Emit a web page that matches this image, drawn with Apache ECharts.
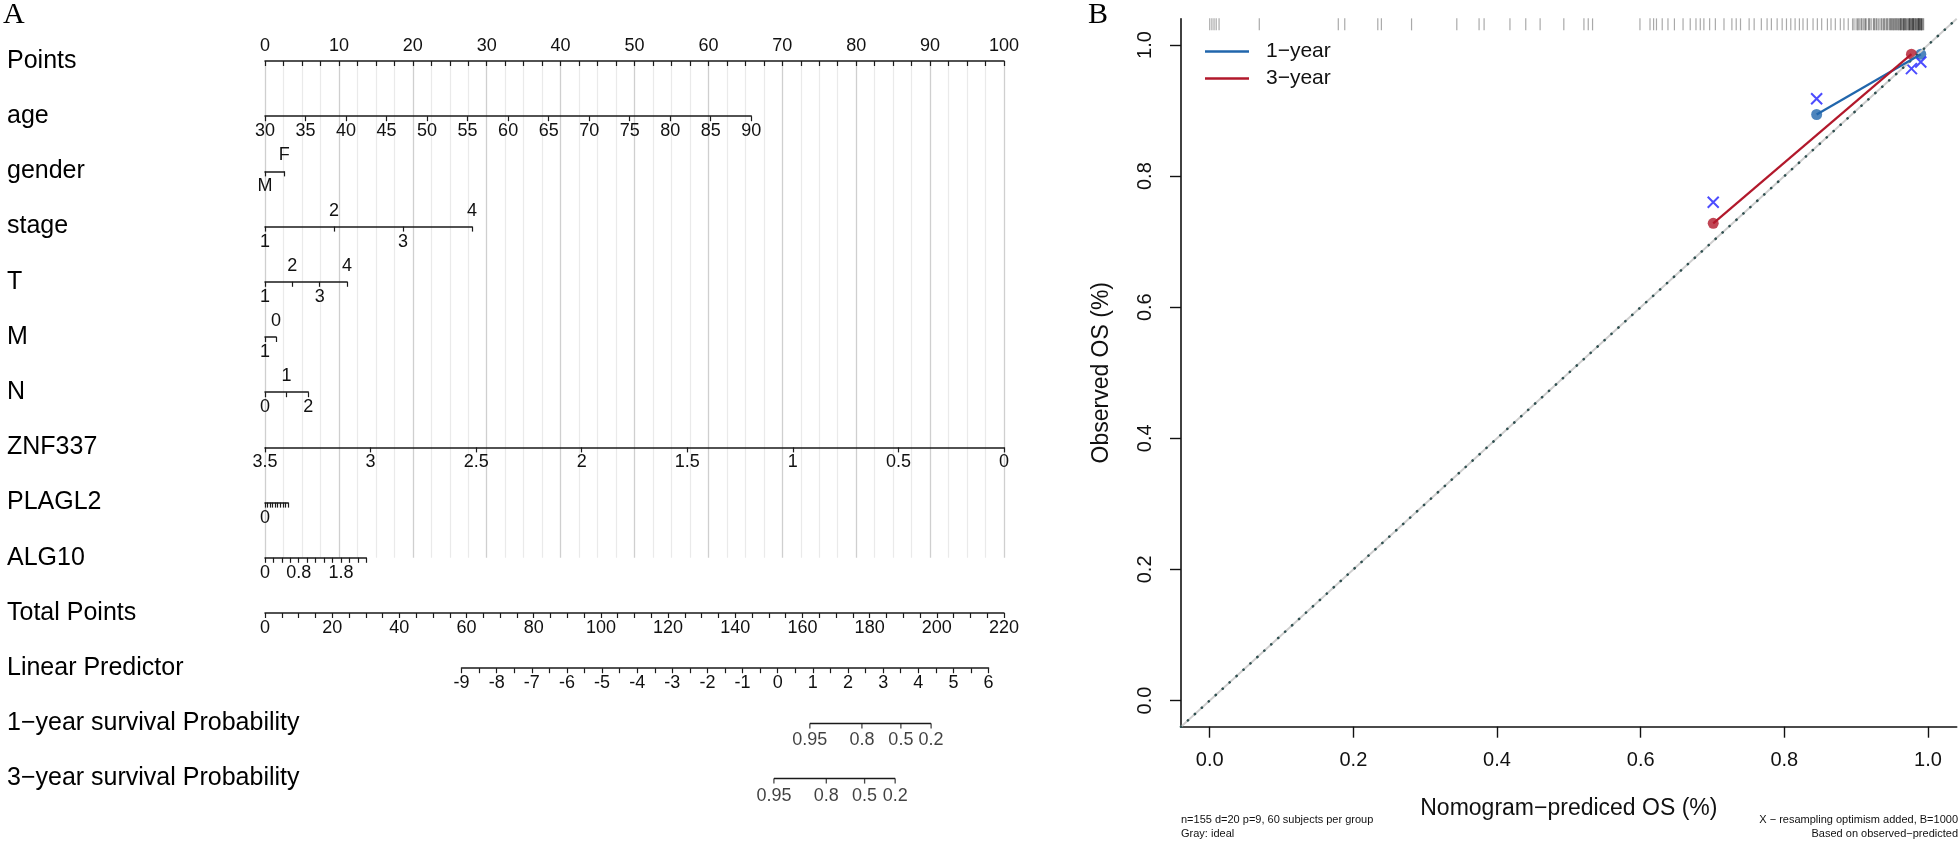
<!DOCTYPE html>
<html>
<head>
<meta charset="utf-8">
<script src="https://cdn.jsdelivr.net/npm/echarts@6/dist/echarts.min.js"></script>
<style>html,body{margin:0;padding:0;background:#fff}#c{width:1960px;height:842px}</style>
</head>
<body>
<div id="c"></div>
<script>
// ================= DATA: Panel A (nomogram) =================
const rowNames = ['Points', 'age', 'gender', 'stage', 'T', 'M', 'N', 'ZNF337', 'PLAGL2', 'ALG10',
  'Total Points', 'Linear Predictor', '1\u2212year survival Probability', '3\u2212year survival Probability'];

const pointsRange = [0, 100];            // Points scale, labels every 10
const pointsLabelStep = 10;

const ageRange = [30, 90];               // tick labels every 5
const ageLabelStep = 5;
const agePoints = [0, 65.8];             // points at the ends of the age scale

const genderLevels = ['M', 'F'];
const genderSides = ['below', 'above'];
const genderPoints = [0, 2.6];

const stageLevels = [1, 2, 3, 4];
const stageSides = ['below', 'above', 'below', 'above'];
const stagePoints = [0, 28.0];

const tLevels = [1, 2, 3, 4];
const tSides = ['below', 'above', 'below', 'above'];
const tPoints = [0, 11.1];

const mLevels = [1, 0];
const mSides = ['below', 'above'];
const mPoints = [0, 1.5];

const nLevels = [0, 1, 2];
const nSides = ['below', 'above', 'below'];
const nPoints = [0, 5.85];

const znfRange = [0, 3.5];               // drawn reversed: 3.5 at 0 points
const znfLabelStep = 0.5;
const znfPoints = [0, 100];

const plaglRange = [0, 1.8];
const plaglTickStep = 0.2;
const plaglLabels = [0];
const plaglPoints = [0, 3.1];

const alg10Range = [0, 2.4];
const alg10TickStep = 0.2;
const alg10Labels = [0, 0.8, 1.8];
const alg10Points = [0, 13.7];

const totalPointsRange = [0, 220];
const totalPointsLabelStep = 20;

const lpRange = [-9, 6];
const lpLabelStep = 1;
const lpTotalPoints = [58.5, 215.4];     // total points at LP -9 and 6

const surv1Labels = ['0.95', '0.8', '0.5', '0.2'];
const surv1TotalPoints = [162.2, 177.7, 189.3, 198.3];
const surv3Labels = ['0.95', '0.8', '0.5', '0.2'];
const surv3TotalPoints = [151.5, 167.1, 178.5, 187.6];

// ================= DATA: Panel B (calibration) =================
const calTicks = [0, 0.2, 0.4, 0.6, 0.8, 1.0];
const oneYearPredicted = [0.845, 0.990];
const oneYearObserved = [0.894, 0.986];
const oneYearCorrected = [0.918, 0.974];
const threeYearPredicted = [0.701, 0.977];
const threeYearObserved = [0.728, 0.986];
const threeYearCorrected = [0.760, 0.964];
const idealLine = [-0.04, 1.04];
const rugPredicted = [
  0.000, 0.003, 0.006, 0.009, 0.013, 0.069, 0.179, 0.188, 0.234, 0.239, 0.281, 0.344, 0.375, 0.382,
  0.418, 0.440, 0.460, 0.493, 0.521, 0.527, 0.533, 0.599,
  0.613, 0.618, 0.622, 0.630, 0.638, 0.647, 0.659, 0.669, 0.677, 0.683, 0.688, 0.696, 0.704, 0.716,
  0.727, 0.733, 0.739, 0.751, 0.758, 0.768, 0.776, 0.782, 0.790, 0.797, 0.803, 0.809, 0.815, 0.821,
  0.826, 0.832, 0.840, 0.846, 0.852, 0.860, 0.865, 0.871, 0.878, 0.883, 0.889,
  0.895, 0.897, 0.900, 0.902, 0.905, 0.907, 0.910, 0.912, 0.914, 0.917, 0.919, 0.921, 0.924, 0.926,
  0.928, 0.931, 0.933, 0.935, 0.938, 0.940, 0.942, 0.944, 0.946, 0.948, 0.950, 0.952, 0.954, 0.956,
  0.958, 0.960, 0.962, 0.964, 0.966, 0.968, 0.970, 0.972, 0.974, 0.976, 0.978, 0.980, 0.982, 0.984,
  0.986, 0.988, 0.990, 0.992,
  0.949, 0.953, 0.957, 0.961, 0.963, 0.967, 0.969, 0.973, 0.975, 0.977, 0.979, 0.981, 0.983, 0.985,
  0.987, 0.989, 0.991, 0.959, 0.965, 0.971, 0.975, 0.979, 0.983, 0.987, 0.990, 0.936, 0.943, 0.925,
  0.913, 0.903, 0.908, 0.918, 0.929, 0.939, 0.947, 0.955, 0.962, 0.968, 0.974, 0.980, 0.986, 0.991,
  0.993, 0.994, 0.951, 0.966, 0.978, 0.988
];
const rugLevel = 1.0315;

// ================= LAYOUT =================
const FONT = '"Liberation Sans", Arial, Helvetica, sans-serif';
const INK = '#1a1a1a';
const PX0 = 265, PXW = 739;           // Points 0 -> 265px, 100 -> 1004px
const ROW0 = 61, ROWH = 55.2;
function rowY(i) { return ROW0 + i * ROWH; }
function ptsPx(p) { return PX0 + (p - pointsRange[0]) * PXW / (pointsRange[1] - pointsRange[0]); }
function tpPx(t) { return PX0 + (t - totalPointsRange[0]) * PXW / (totalPointsRange[1] - totalPointsRange[0]); }
function near(a, b) { return Math.abs(a - b) < 1e-6; }

const grids = [], xAxes = [], yAxes = [], series = [];
const labelBase = { fontSize: 18, fontFamily: FONT, color: '#111', showMinLabel: true, showMaxLabel: true };

function addAxisRow(cfg) {
  const gi = grids.length;
  const y = rowY(cfg.row);
  grids.push({ left: cfg.left, top: y - 1, width: cfg.right - cfg.left, height: 1, containLabel: false, outerBoundsMode: 'none' });
  yAxes.push({ gridIndex: gi, type: 'value', show: false, min: 0, max: 1 });
  const base = {
    gridIndex: gi, type: 'value', position: 'bottom', min: cfg.min, max: cfg.max, interval: cfg.interval,
    inverse: !!cfg.inverse, splitLine: { show: false }, minorSplitLine: { show: false }
  };
  xAxes.push(Object.assign({}, base, {
    axisLine: { show: true, onZero: false, lineStyle: { color: INK, width: 1.5 } },
    axisTick: { show: true, inside: false, length: 5, lineStyle: { color: INK, width: 1.2 } },
    minorTick: cfg.minor ? { show: true, splitNumber: cfg.minor, length: 5, lineStyle: { color: INK, width: 1.2 } } : { show: false },
    axisLabel: Object.assign({}, labelBase, { show: true, margin: 6, formatter: cfg.below })
  }));
  if (cfg.above) {
    xAxes.push(Object.assign({}, base, {
      axisLine: { show: false, onZero: false }, axisTick: { show: false }, minorTick: { show: false },
      axisLabel: Object.assign({}, labelBase, { show: true, inside: true, margin: 7, formatter: cfg.above })
    }));
  }
}

function addLevelsRow(row, levels, sides, pts) {
  const fmt = side => (v => { const i = Math.round(v); return sides[i] === side ? String(levels[i]) : ''; });
  addAxisRow({ row, left: ptsPx(pts[0]), right: ptsPx(pts[1]), min: 0, max: levels.length - 1, interval: 1,
    below: fmt('below'), above: fmt('above') });
}

function addProbRow(row, tps, labels) {
  const gi = grids.length, xi = xAxes.length, yi = yAxes.length;
  const y = rowY(row);
  grids.push({ left: PX0, top: y - 1, width: PXW, height: 1, containLabel: false, outerBoundsMode: 'none' });
  xAxes.push({ gridIndex: gi, type: 'value', show: false, min: totalPointsRange[0], max: totalPointsRange[1] });
  yAxes.push({ gridIndex: gi, type: 'value', show: false, min: 0, max: 1 });
  series.push({
    type: 'line', xAxisIndex: xi, yAxisIndex: yi, silent: true, clip: false, symbol: 'none',
    data: [[tps[0], 0], [tps[tps.length - 1], 0]], lineStyle: { color: INK, width: 1.5 }
  });
  series.push({
    type: 'scatter', xAxisIndex: xi, yAxisIndex: yi, silent: true, clip: false,
    symbol: 'rect', symbolSize: [1.3, 5], symbolOffset: [0, 2.5], itemStyle: { color: INK },
    data: tps.map((t, i) => ({ name: labels[i], value: [t, 0] })),
    label: { show: true, position: 'bottom', distance: 3, formatter: '{b}', fontSize: 18, fontFamily: FONT, color: '#111' }
  });
}

// --- Points row (also carries the vertical reference lines) ---
(function () {
  const gi = grids.length;
  grids.push({ left: PX0, top: rowY(0), width: PXW, height: rowY(9) - rowY(0), containLabel: false, outerBoundsMode: 'none' });
  yAxes.push({ gridIndex: gi, type: 'value', show: false, min: 0, max: 1 });
  xAxes.push({
    gridIndex: gi, type: 'value', position: 'top', min: pointsRange[0], max: pointsRange[1], interval: pointsLabelStep,
    axisLine: { show: true, onZero: false, lineStyle: { color: INK, width: 1.5 } },
    axisTick: { show: true, inside: true, length: 5, lineStyle: { color: INK, width: 1.2 } },
    minorTick: { show: true, splitNumber: 4, length: 5, lineStyle: { color: INK, width: 1.2 } },
    splitLine: { show: true, lineStyle: { color: '#cfcfcf', width: 1.3 } },
    minorSplitLine: { show: true, lineStyle: { color: '#eaeaea', width: 1.2 } },
    axisLabel: Object.assign({}, labelBase, { margin: 6 })
  });
})();

addAxisRow({ row: 1, left: ptsPx(agePoints[0]), right: ptsPx(agePoints[1]), min: ageRange[0], max: ageRange[1], interval: ageLabelStep });
addLevelsRow(2, genderLevels, genderSides, genderPoints);
addLevelsRow(3, stageLevels, stageSides, stagePoints);
addLevelsRow(4, tLevels, tSides, tPoints);
addLevelsRow(5, mLevels, mSides, mPoints);
addLevelsRow(6, nLevels, nSides, nPoints);
addAxisRow({ row: 7, left: ptsPx(znfPoints[0]), right: ptsPx(znfPoints[1]), min: znfRange[0], max: znfRange[1], interval: znfLabelStep, inverse: true });
addAxisRow({ row: 8, left: ptsPx(plaglPoints[0]), right: ptsPx(plaglPoints[1]), min: plaglRange[0], max: plaglRange[1], interval: plaglTickStep,
  below: v => plaglLabels.some(l => near(l, v)) ? String(+v.toFixed(1)) : '' });
addAxisRow({ row: 9, left: ptsPx(alg10Points[0]), right: ptsPx(alg10Points[1]), min: alg10Range[0], max: alg10Range[1], interval: alg10TickStep,
  below: v => alg10Labels.some(l => near(l, v)) ? String(+v.toFixed(1)) : '' });
addAxisRow({ row: 10, left: tpPx(totalPointsRange[0]), right: tpPx(totalPointsRange[1]), min: totalPointsRange[0], max: totalPointsRange[1], interval: totalPointsLabelStep, minor: 4 });
addAxisRow({ row: 11, left: tpPx(lpTotalPoints[0]), right: tpPx(lpTotalPoints[1]), min: lpRange[0], max: lpRange[1], interval: lpLabelStep, minor: 2 });
addProbRow(12, surv1TotalPoints, surv1Labels);
addProbRow(13, surv3TotalPoints, surv3Labels);

// ================= Panel B =================
const BLUE = '#2166AC', RED = '#B2182B', XBLUE = '#1f1fff';
const bg = grids.length, bx = xAxes.length, by = yAxes.length;
grids.push({ left: 1181, top: 18.8, right: 1960 - 1956.7, bottom: 842 - 726.7, containLabel: false, outerBoundsMode: 'none' });
xAxes.push({
  gridIndex: bg, type: 'value', min: idealLine[0], max: idealLine[1], position: 'bottom',
  axisLine: { show: true, onZero: false, lineStyle: { color: '#111', width: 1.6 } },
  axisTick: { show: true, inside: false, length: 11, customValues: calTicks, lineStyle: { color: '#111', width: 1.4 } },
  axisLabel: { show: true, customValues: calTicks, formatter: v => v.toFixed(1), margin: 24, fontSize: 20, fontFamily: FONT, color: '#111' },
  splitLine: { show: false },
  name: 'Nomogram\u2212prediced OS (%)', nameLocation: 'middle', nameGap: 70,
  nameTextStyle: { fontSize: 23, fontFamily: FONT, color: '#111' }
});
yAxes.push({
  gridIndex: bg, type: 'value', min: idealLine[0], max: idealLine[1], position: 'left',
  axisLine: { show: true, onZero: false, lineStyle: { color: '#111', width: 1.6 } },
  axisTick: { show: true, inside: false, length: 11, customValues: calTicks, lineStyle: { color: '#111', width: 1.4 } },
  axisLabel: { show: true, customValues: calTicks, rotate: 90, formatter: v => v.toFixed(1), margin: 26, fontSize: 20, fontFamily: FONT, color: '#111' },
  splitLine: { show: false },
  name: 'Observed OS (%)', nameLocation: 'middle', nameGap: 68,
  nameTextStyle: { fontSize: 23, fontFamily: FONT, color: '#111' }
});
const onB = { xAxisIndex: bx, yAxisIndex: by };
series.push(Object.assign({ type: 'line', name: 'ideal', silent: true, symbol: 'none',
  data: [[idealLine[0], idealLine[0]], [idealLine[1], idealLine[1]]], lineStyle: { color: '#cfcfcf', width: 2 } }, onB));
series.push(Object.assign({ type: 'line', name: 'ideal-dots', silent: true, symbol: 'none',
  data: [[idealLine[0], idealLine[0]], [idealLine[1], idealLine[1]]], lineStyle: { color: '#2F4F4F', width: 2.6, type: [0.1, 9.3], cap: 'round' } }, onB));
series.push(Object.assign({ type: 'scatter', name: 'rug', silent: true, symbol: 'rect', symbolSize: [1.2, 12],
  itemStyle: { color: 'rgba(0,0,0,0.42)' }, data: rugPredicted.map(v => [v, rugLevel]) }, onB));
series.push(Object.assign({ type: 'line', name: '1\u2212year', color: BLUE, symbol: 'none',
  data: oneYearPredicted.map((p, i) => [p, oneYearObserved[i]]), lineStyle: { color: BLUE, width: 2.2 } }, onB));
series.push(Object.assign({ type: 'line', name: '3\u2212year', color: RED, symbol: 'none',
  data: threeYearPredicted.map((p, i) => [p, threeYearObserved[i]]), lineStyle: { color: RED, width: 2.2 } }, onB));
series.push(Object.assign({ type: 'scatter', name: '1-year observed', symbol: 'circle', symbolSize: 11, itemStyle: { color: BLUE },
  data: oneYearPredicted.map((p, i) => [p, oneYearObserved[i]]) }, onB));
series.push(Object.assign({ type: 'scatter', name: '3-year observed', symbol: 'circle', symbolSize: 11, itemStyle: { color: RED },
  data: threeYearPredicted.map((p, i) => [p, threeYearObserved[i]]) }, onB));
const xPath = 'path://M0,0L10,10M10,0L0,10';
series.push(Object.assign({ type: 'scatter', name: 'corrected', symbol: xPath, symbolSize: 11,
  itemStyle: { color: 'transparent', borderColor: XBLUE, borderWidth: 2 },
  data: oneYearPredicted.map((p, i) => [p, oneYearCorrected[i]]).concat(threeYearPredicted.map((p, i) => [p, threeYearCorrected[i]])) }, onB));

// ================= Texts =================
const graphic = [
  { type: 'text', x: 3, y: 15, style: { text: 'A', font: '30px "Liberation Serif", "Times New Roman", serif', fill: '#000', verticalAlign: 'middle' } },
  { type: 'text', x: 1088, y: 15, style: { text: 'B', font: '30px "Liberation Serif", "Times New Roman", serif', fill: '#000', verticalAlign: 'middle' } },
  { type: 'text', x: 1181, y: 820, style: { text: 'n=155 d=20 p=9, 60 subjects per group', font: '11px ' + FONT, fill: '#111', verticalAlign: 'middle' } },
  { type: 'text', x: 1181, y: 834, style: { text: 'Gray: ideal', font: '11px ' + FONT, fill: '#111', verticalAlign: 'middle' } },
  { type: 'text', x: 1958, y: 820, style: { text: 'X \u2212 resampling optimism added, B=1000', font: '11px ' + FONT, fill: '#111', verticalAlign: 'middle', align: 'right' } },
  { type: 'text', x: 1958, y: 834, style: { text: 'Based on observed\u2212predicted', font: '11px ' + FONT, fill: '#111', verticalAlign: 'middle', align: 'right' } }
].concat(rowNames.map((n, i) => ({
  type: 'text', x: 7, y: rowY(i), style: { text: n, font: '25px ' + FONT, fill: '#000', verticalAlign: 'middle' }
})));

const chart = echarts.init(document.getElementById('c'), null, { renderer: 'canvas' });
chart.setOption({
  animation: false,
  backgroundColor: '#fff',
  grid: grids,
  xAxis: xAxes,
  yAxis: yAxes,
  legend: {
    data: ['1\u2212year', '3\u2212year'], left: 1200, top: 36, orient: 'vertical', icon: 'rect',
    itemWidth: 44, itemHeight: 2.5, itemGap: 6, selectedMode: false,
    textStyle: { fontSize: 21, fontFamily: FONT, color: '#111', padding: [0, 0, 0, 12] }
  },
  series: series,
  graphic: graphic
});
</script>
</body>
</html>
